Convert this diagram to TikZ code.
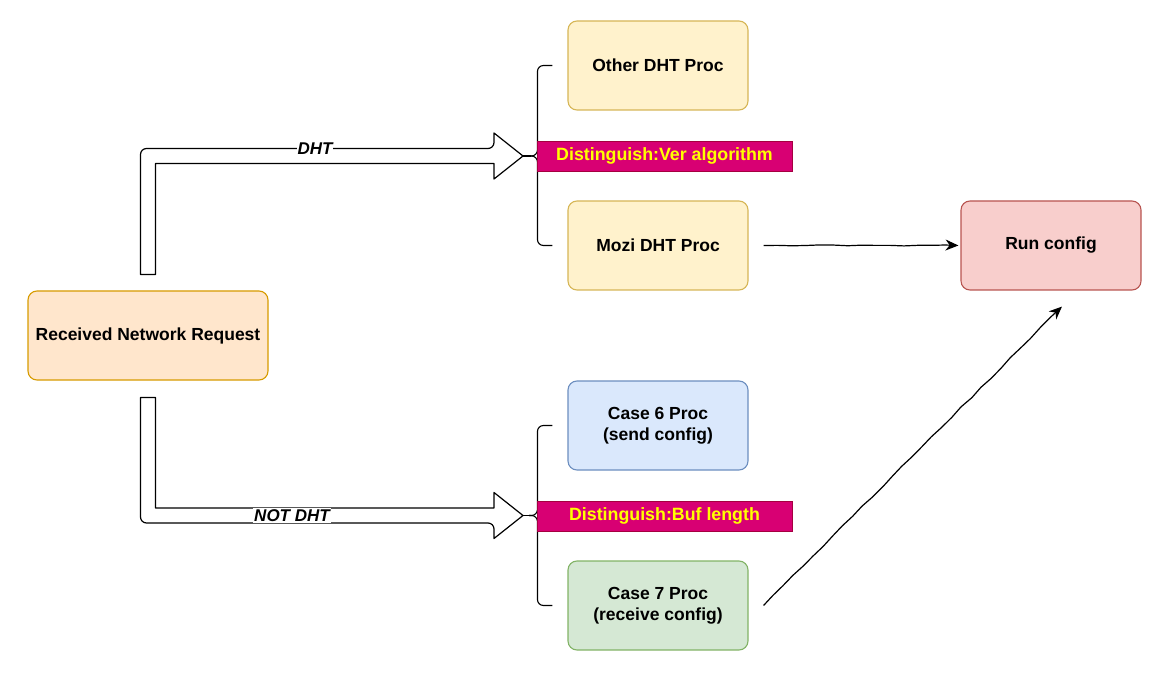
\documentclass[tikz,border=0pt]{standalone}
\usepackage{fontspec}
\setmainfont{Liberation Sans}
\usetikzlibrary{calc,arrows.meta,decorations.pathmorphing}
\definecolor{recvfill}{HTML}{FFE6CC}
\definecolor{recvdraw}{HTML}{D79B00}
\definecolor{yelfill}{HTML}{FFF2CC}
\definecolor{yeldraw}{HTML}{D6B656}
\definecolor{bluefill}{HTML}{DAE8FC}
\definecolor{bluedraw}{HTML}{6C8EBF}
\definecolor{grnfill}{HTML}{D5E8D4}
\definecolor{grndraw}{HTML}{82B366}
\definecolor{redfill}{HTML}{F8CECC}
\definecolor{reddraw}{HTML}{B85450}
\definecolor{magfill}{HTML}{D80073}
\definecolor{magdraw}{HTML}{A50040}
\definecolor{yeltext}{HTML}{FFFF00}
\tikzset{
  sketch/.style={decorate,decoration={random steps,segment length=14pt,amplitude=0.6pt}},
  procbox/.style={draw, line width=1.1pt, rounded corners=9pt, minimum width=180pt, minimum height=89pt,
    align=center, font=\bfseries\fontsize{17.5}{21}\selectfont, inner sep=2pt},
  tagbox/.style={draw=magdraw, fill=magfill, line width=0.6pt, minimum width=255pt, minimum height=30pt,
    text=yeltext, font=\bfseries\fontsize{17.8}{21}\selectfont, inner sep=0pt},
  flex/.style={draw, fill=white, line width=1.2pt, line join=round},
  lbl/.style={fill=white, inner sep=1pt, font=\bfseries\itshape\fontsize{17}{20}\selectfont},
  arr/.style={draw, line width=1.2pt, -{Stealth[length=13pt,width=11pt]}, sketch},
  bracepath/.style={draw, line width=1.1pt, rounded corners=6pt},
}
\begin{document}
\begin{tikzpicture}[x=1pt,y=-1pt]
\pgfmathsetseed{7}
\useasboundingbox (0,0) rectangle (1162,676);

% nodes
\node[procbox, fill=recvfill, draw=recvdraw, minimum width=240pt] (recv) at (148,335.5) {Received Network Request};
\node[procbox, fill=yelfill, draw=yeldraw] (other) at (658,65.5) {Other DHT Proc};
\node[procbox, fill=yelfill, draw=yeldraw] (mozi) at (658,245.5) {Mozi DHT Proc};
\node[procbox, fill=bluefill, draw=bluedraw] (c6) at (658,425.5) {Case 6 Proc\\(send config)};
\node[procbox, fill=grnfill, draw=grndraw] (c7) at (658,605.5) {Case 7 Proc\\(receive config)};
\node[procbox, fill=redfill, draw=reddraw] (run) at (1051,245.5) {Run config};

% anchors
\coordinate (tip1) at (523,156);
\coordinate (tip2) at (523,515.5);
\coordinate (s1) at ($(recv.north)+(0,-16)$);
\coordinate (s2) at ($(recv.south)+(0,17)$);

% braces
\path[bracepath] ($(other.west)+(-15,0)$) -- ($(other.west)+(-30,0)$) |- ($(tip1)+(6,0)$);
\path[bracepath] ($(mozi.west)+(-15,0)$) -- ($(mozi.west)+(-30,0)$) |- ($(tip1)+(6,0)$);
\draw[line width=1.1pt] ($(tip1)+(8,0)$) -- (tip1);
\path[bracepath] ($(c6.west)+(-15,0)$) -- ($(c6.west)+(-30,0)$) |- ($(tip2)+(6,0)$);
\path[bracepath] ($(c7.west)+(-15,0)$) -- ($(c7.west)+(-30,0)$) |- ($(tip2)+(6,0)$);
\draw[line width=1.1pt] ($(tip2)+(8,0)$) -- (tip2);

% tags
\node[tagbox] (tag1) at (664.5,156) {Distinguish:Ver algorithm};
\node[tagbox] (tag2) at (664.5,516) {Distinguish:Buf length};

% flex arrows
\path[flex] ($(s1)+(-7.5,0)$) [rounded corners=6pt] -- ($(s1|-tip1)+(-7.5,-7.5)$) -- ($(tip1)+(-29,-7.5)$) [sharp corners]
  -- ($(tip1)+(-29,-23)$) -- (tip1) -- ($(tip1)+(-29,23)$) -- ($(tip1)+(-29,7.5)$)
  -- ($(s1|-tip1)+(7.5,7.5)$) -- ($(s1)+(7.5,0)$) -- cycle;
\path[flex] ($(s2)+(-7.5,0)$) [rounded corners=6pt] -- ($(s2|-tip2)+(-7.5,7.5)$) -- ($(tip2)+(-29,7.5)$) [sharp corners]
  -- ($(tip2)+(-29,23)$) -- (tip2) -- ($(tip2)+(-29,-23)$) -- ($(tip2)+(-29,-7.5)$)
  -- ($(s2|-tip2)+(7.5,-7.5)$) -- ($(s2)+(7.5,0)$) -- cycle;
\node[lbl] (l1) at (315,148.5) {DHT};
\node[lbl] (l2) at (292,515.5) {NOT DHT};

% connectors
\coordinate (c7end) at ($(run.south)+(11,16)$);
\draw[arr] ($(mozi.east)+(15,0)$) -- ($(run.west)+(-2,0)$);
\draw[arr] ($(c7.east)+(15,0)$) -- (c7end);
\end{tikzpicture}
\end{document}
